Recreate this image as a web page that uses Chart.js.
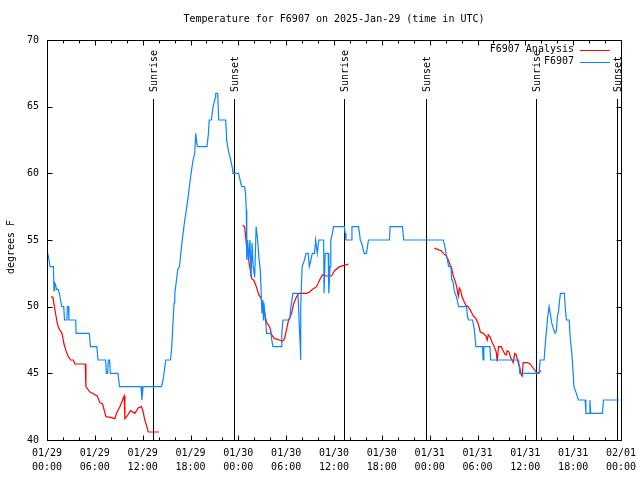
<!DOCTYPE html>
<html lang="en">
<head>
  <meta charset="UTF-8">
  <title>Temperature for F6907</title>
  <script src="https://cdn.jsdelivr.net/npm/chart.js"></script>
  <style>
    html, body { margin: 0; padding: 0; background: #fff; }
    #wrap { width: 640px; height: 480px; }
  </style>
</head>
<body>
  <div id="wrap"><canvas id="tempChart" width="640" height="480"></canvas></div>

  <script>
    // hours since 2025-01-29 00:00 UTC
    const obsHours = [
      0.1, 0.25, 0.38, 0.8, 0.88, 0.95, 1.05, 1.2, 1.4, 1.55, 1.7, 1.85, 2.1, 2.2, 2.5, 2.55, 2.7, 2.75,
      3.6, 3.65, 5.3, 5.45, 6.25, 6.4, 7.35, 7.45, 7.6, 7.7, 7.85, 7.95, 8.9, 9.1, 11.8, 11.9, 12.05,
      14.35, 14.56, 14.9, 15.49, 15.65, 15.8, 15.94, 16.03, 16.24, 16.4, 16.62, 16.7, 16.87, 17.07,
      17.28, 17.49, 17.69, 17.9, 18.12, 18.32, 18.53, 18.66, 18.8, 18.9, 20.07, 20.25, 20.35, 20.62,
      20.83, 21.12, 21.16, 21.41, 21.54, 22.41, 22.54, 22.66, 22.83, 23.04, 23.29, 23.33, 24.04,
      24.29, 24.42, 24.79, 24.9, 25.0, 25.04, 25.08, 25.17, 25.3, 25.46, 25.6, 25.73, 25.86, 26.05,
      26.23, 26.42, 26.58, 26.76, 26.96, 27.08, 27.15, 27.2, 27.42, 27.54, 28.09, 28.2, 28.34, 29.39,
      29.45, 29.6, 30.43, 30.6, 30.84, 31.47, 31.55, 31.65, 31.77, 31.8, 31.85, 32.0, 32.3, 32.5,
      32.77, 32.9, 33.1, 33.27, 33.56, 33.7, 33.9, 34.1, 34.7, 34.75, 34.9, 35.27, 35.35, 35.5, 35.6,
      35.8, 35.94, 37.3, 37.4, 37.5, 38.15, 38.25, 39.07, 39.2, 39.3, 39.5, 39.7, 39.8, 40.07, 40.2,
      40.32, 42.95, 43.05, 44.58, 44.75, 49.71, 49.9, 50.05, 50.2, 50.38, 50.67, 50.75, 50.88, 51.09,
      51.25, 51.38, 51.63, 52.63, 52.75, 52.88, 53.38, 53.6, 53.8, 54.63, 54.7, 54.8, 55.56, 55.65,
      59.14, 59.25, 59.31, 61.73, 61.85, 62.36, 62.5, 62.65, 62.8, 62.98, 63.1, 63.3, 63.55, 63.74,
      63.9, 64.02, 64.15, 64.27, 64.4, 64.9, 65.0, 65.15, 65.5, 65.65, 65.83, 65.95, 66.1, 66.4,
      66.65, 67.5, 67.6, 68.0, 68.1, 68.2, 69.66, 69.8, 71.75
    ];
    const obsTemps = [
      54, 53.5, 53, 53, 51.2, 51.8, 51.7, 51.3, 51.3, 51, 50.5, 50, 50, 49, 49, 50, 50, 49,
      49, 48, 48, 47, 47, 46, 46, 45, 45, 46, 46, 45, 45, 44, 44, 43, 44,
      44, 44.5, 46, 46, 47, 48.8, 50.3, 51, 52, 52.8, 53, 53.5, 54.5, 55.5,
      56.5, 57.3, 58.2, 59.2, 60.2, 61, 61.5, 63, 62.2, 62, 62, 63, 64, 64,
      65, 65.7, 66, 66, 64, 64, 62.5, 62, 61.5, 61, 60.3, 60, 60,
      59.3, 59, 59, 58.5, 57.25, 56.2, 53.5, 55, 53.5, 55, 52.2, 54.8, 53, 52.2,
      56, 55, 53.7, 52.7, 49.5, 50.5, 49, 50.3, 49, 48, 48, 47.5, 47, 47,
      48, 49, 49, 50, 51, 51, 50, 48.5, 47, 46, 50, 53, 53.5, 54,
      54, 53, 53.5, 54, 54, 55, 54, 55, 55, 51, 54, 54, 51, 53, 55,
      55.5, 56, 56, 55.5, 55, 55, 56, 56, 55.5, 55, 54.7, 54.2, 54, 54, 54.5,
      55, 55, 56, 56, 55, 55, 54.5, 54, 53.6, 53, 53, 52, 52, 51.2,
      50.9, 50.7, 50, 50, 49.2, 49, 49, 48.3, 47, 47, 46, 47, 47, 46,
      46, 45.5, 45, 45, 46, 46, 47.2, 48.2, 49.2, 50, 49.6, 48.8, 48.3, 48,
      48.2, 49.3, 49.6, 50.3, 51, 51, 50, 49, 49, 47.5, 46.5, 45.5, 44, 43.5,
      43, 43, 42, 42, 43, 42, 42, 43, 43
    ];

    // analysis runs in three pieces, null marks a break
    const analysisHours = [
      0.5, 0.75, 0.92, 1.13, 1.29, 1.46, 1.88, 2.13, 2.38, 2.63, 2.96, 3.3, 3.5, 4.8, 4.88, 5.38,
      5.72, 6.3, 6.64, 6.97, 7.39, 7.97, 8.51, 8.72, 9.14, 9.47, 9.68, 9.77, 10.06, 10.48, 11.02,
      11.43, 11.86, 12.06, 12.27, 12.48, 12.69, 14.06,
      null,
      24.54, 24.79, 25.04, 25.29, 25.54, 25.67, 25.92, 26.26, 26.55, 26.8, 27.09, 27.3, 27.55, 27.92,
      28.17, 28.55, 29.18, 29.55, 29.8, 30.05, 30.3, 30.68, 30.93, 31.27, 31.55, 32.56, 32.93, 33.31,
      33.81, 34.19, 34.56, 35.06, 35.69, 36.06, 36.69, 37.32, 37.82,
      null,
      48.58, 48.96, 49.46, 49.71, 50.09, 50.34, 50.59, 50.76, 50.96, 51.21, 51.38, 51.59, 51.72,
      51.9, 52.03, 52.3, 52.55, 52.84, 53.15, 53.47, 53.8, 54.1, 54.35, 54.73, 55.06, 55.22, 55.35,
      55.6, 55.85, 56.1, 56.35, 56.47, 56.64, 56.97, 57.22, 57.47, 57.64, 57.72, 57.97, 58.14, 58.48,
      58.67, 58.85, 59.1, 59.35, 59.48, 59.6, 59.73, 60.23, 60.6, 60.97, 61.36, 61.6, 61.98
    ];
    const analysisTemps = [
      50.75, 50.7, 50, 49.3, 48.75, 48.4, 48, 47.2, 46.7, 46.3, 46, 46, 45.7, 45.7, 44, 43.6,
      43.5, 43.3, 42.8, 42.7, 41.75, 41.7, 41.6, 42, 42.5, 43, 43.3, 41.6, 41.8, 42.2, 42,
      42.4, 42.5, 42.1, 41.5, 41.1, 40.6, 40.6,
      null,
      56.1, 56, 54.5, 53.5, 52.6, 52.1, 52, 51.5, 50.9, 50.7, 50.2, 49.5, 48.8, 48.5,
      47.9, 47.6, 47.5, 47.4, 47.6, 48.3, 49, 49.5, 50.2, 50.7, 51, 51, 51.1, 51.3,
      51.5, 52, 52.4, 52.3, 52.3, 52.7, 53, 53.1, 53.2,
      null,
      54.4, 54.3, 54.2, 54, 53.8, 53.5, 53.1, 52.9, 52.3, 51.9, 51.5, 50.8, 51.4,
      51.2, 50.8, 50.4, 50.1, 50, 49.7, 49.3, 49.1, 48.7, 48.1, 48, 47.8, 47.5, 47.9,
      47.7, 47.3, 47, 46.6, 45.9, 47, 47, 46.7, 46.4, 46.4, 46.7, 46.6, 46.2, 45.8,
      46.5, 46.4, 45.8, 45.3, 44.9, 44.8, 45.8, 45.8, 45.7, 45.4, 45.1, 45, 45.2
    ];

    const sunLabels = ['Sunrise', 'Sunset', 'Sunrise', 'Sunset', 'Sunrise', 'Sunset'];
    const sunHours = [13.32, 23.48, 37.24, 47.52, 61.4, 71.48];

    const xTickLabels = [
      ['01/29', '00:00'], ['01/29', '06:00'], ['01/29', '12:00'], ['01/29', '18:00'],
      ['01/30', '00:00'], ['01/30', '06:00'], ['01/30', '12:00'], ['01/30', '18:00'],
      ['01/31', '00:00'], ['01/31', '06:00'], ['01/31', '12:00'], ['01/31', '18:00'],
      ['02/01', '00:00']
    ];

    const FONT = 'DejaVu Sans Mono';
    const RED = '#ff0000';
    const BLUE = '#0d85ff';

    function pairs(xs, ys) {
      return xs.map((x, i) => ({ x: x, y: ys[i] }));
    }

    // frame, inward ticks, sun markers, legend and titles drawn gnuplot style
    const decorations = {
      id: 'decorations',
      beforeDatasetsDraw(chart) {
        const { ctx, chartArea: a, scales: { x } } = chart;
        ctx.save();
        ctx.strokeStyle = '#000';
        ctx.lineWidth = 1;
        ctx.fillStyle = '#000';
        ctx.font = '10px "' + FONT + '"';
        sunHours.forEach((h, i) => {
          const px = Math.round(x.getPixelForValue(h)) + 0.5;
          ctx.beginPath();
          ctx.moveTo(px, a.top + 59);
          ctx.lineTo(px, a.bottom);
          ctx.stroke();
          ctx.save();
          ctx.translate(px + 1, a.top + 52);
          ctx.rotate(-Math.PI / 2);
          ctx.textAlign = 'left';
          ctx.textBaseline = 'middle';
          ctx.fillText(sunLabels[i], 0, 0);
          ctx.restore();
        });
        ctx.restore();
      },
      afterDatasetsDraw(chart) {
        const { ctx, chartArea: a, scales: { x, y } } = chart;
        ctx.save();
        ctx.strokeStyle = '#000';
        ctx.fillStyle = '#000';
        ctx.lineWidth = 1;
        const L = Math.round(a.left) + 0.5, R = Math.round(a.right) + 0.5;
        const T = Math.round(a.top) + 0.5, B = Math.round(a.bottom) + 0.5;
        ctx.strokeRect(L, T, R - L, B - T);

        ctx.beginPath();
        for (let h = 0; h <= 72; h += 2) {
          const px = Math.round(x.getPixelForValue(h)) + 0.5;
          const len = h % 6 === 0 ? 5 : 3;
          ctx.moveTo(px, B); ctx.lineTo(px, B - len);
          ctx.moveTo(px, T); ctx.lineTo(px, T + len);
        }
        for (let v = 40; v <= 70; v += 5) {
          const py = Math.round(y.getPixelForValue(v)) + 0.5;
          ctx.moveTo(L, py); ctx.lineTo(L + 5, py);
          ctx.moveTo(R, py); ctx.lineTo(R - 5, py);
        }
        ctx.stroke();

        ctx.font = '10px "' + FONT + '"';
        ctx.textBaseline = 'middle';

        // legend
        const legend = [['F6907 Analysis', RED, 50], ['F6907', BLUE, 62]];
        legend.forEach(([label, color, ly]) => {
          ctx.fillStyle = '#000';
          ctx.textAlign = 'right';
          ctx.fillText(label, 574, ly - 1);
          ctx.strokeStyle = color;
          ctx.beginPath();
          ctx.moveTo(580, ly + 0.5);
          ctx.lineTo(610, ly + 0.5);
          ctx.stroke();
        });

        // title
        ctx.fillStyle = '#000';
        ctx.textAlign = 'center';
        ctx.fillText('Temperature for F6907 on 2025-Jan-29 (time in UTC)', (a.left + a.right) / 2, 19);

        // y axis label
        ctx.translate(11, 247);
        ctx.rotate(-Math.PI / 2);
        ctx.textAlign = 'center';
        ctx.fillText('degrees F', 0, 0);
        ctx.restore();
      }
    };

    new Chart(document.getElementById('tempChart').getContext('2d'), {
      type: 'line',
      data: {
        datasets: [
          {
            label: 'F6907',
            data: pairs(obsHours, obsTemps),
            borderColor: BLUE,
            borderWidth: 1.2,
            pointRadius: 0,
            tension: 0
          },
          {
            label: 'F6907 Analysis',
            data: pairs(analysisHours, analysisTemps),
            borderColor: RED,
            borderWidth: 1.2,
            pointRadius: 0,
            tension: 0,
            spanGaps: false
          }
        ]
      },
      options: {
        responsive: false,
        animation: false,
        layout: { padding: { top: 40, right: 19, left: 0, bottom: 0 } },
        plugins: {
          legend: { display: false },
          title: { display: false },
          tooltip: { enabled: false }
        },
        scales: {
          x: {
            type: 'linear',
            min: 0,
            max: 72,
            grid: { display: false, drawTicks: false },
            border: { display: false },
            afterFit: s => {
              s.height = 40;
              s.paddingLeft = 0;
              s.paddingRight = 0;
            },
            ticks: {
              stepSize: 6,
              autoSkip: false,
              maxRotation: 0,
              padding: 6,
              color: '#000',
              font: { family: FONT, size: 10, lineHeight: 1.4 },
              callback: (v) => xTickLabels[Math.round(v / 6)]
            }
          },
          y: {
            min: 40,
            max: 70,
            grid: { display: false, drawTicks: false },
            border: { display: false },
            afterFit: s => {
              s.width = 47;
              s.paddingTop = 0;
              s.paddingBottom = 0;
            },
            ticks: {
              stepSize: 5,
              padding: 8,
              color: '#000',
              font: { family: FONT, size: 10 }
            }
          }
        }
      },
      plugins: [decorations]
    });
  </script>
</body>
</html>
